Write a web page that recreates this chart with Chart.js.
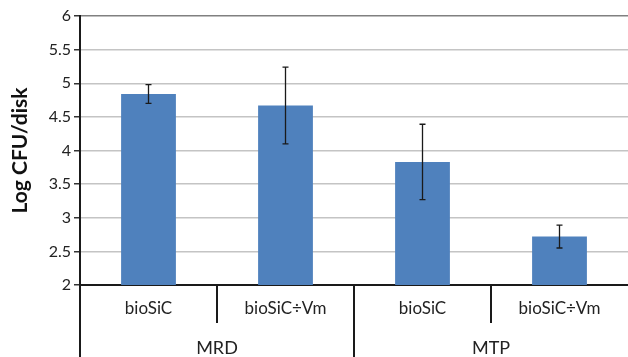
<!DOCTYPE html>
<html lang="en">
<head>
    <meta charset="UTF-8">
    <title>Log CFU/disk</title>
    <script src="https://cdn.jsdelivr.net/npm/chart.js"></script>
    <style>
        body { margin: 0; background: #fff; }
        canvas { display: block; }
    </style>
</head>
<body>
    <canvas id="chart" width="628" height="357"></canvas>

    <script>
        // data
        const categories = ['bioSiC', 'bioSiC÷Vm', 'bioSiC', 'bioSiC÷Vm'];
        const groups = ['MRD', 'MTP'];
        const means = [4.84, 4.67, 3.83, 2.72];
        const errors = [0.14, 0.57, 0.56, 0.17];
        const yTicks = [2, 2.5, 3, 3.5, 4, 4.5, 5, 5.5, 6];

        const font = 'Lato';

        // error bars on top of each bar
        const errorBars = {
            id: 'errorBars',
            afterDatasetsDraw(chart) {
                const ctx = chart.ctx;
                const y = chart.scales.y;
                const meta = chart.getDatasetMeta(0);
                ctx.save();
                ctx.strokeStyle = '#1a1a1a';
                ctx.lineWidth = 1.3;
                meta.data.forEach((bar, i) => {
                    const top = y.getPixelForValue(means[i] + errors[i]);
                    const bot = y.getPixelForValue(means[i] - errors[i]);
                    ctx.beginPath();
                    ctx.moveTo(bar.x, top);
                    ctx.lineTo(bar.x, bot);
                    ctx.moveTo(bar.x - 3, top);
                    ctx.lineTo(bar.x + 3, top);
                    ctx.moveTo(bar.x - 3, bot);
                    ctx.lineTo(bar.x + 3, bot);
                    ctx.stroke();
                });
                ctx.restore();
            }
        };

        // two-level category axis under the plot
        const groupAxis = {
            id: 'groupAxis',
            afterDraw(chart) {
                const ctx = chart.ctx;
                const x = chart.scales.x;
                const area = chart.chartArea;
                const h = chart.height;
                ctx.save();
                ctx.strokeStyle = '#1a1a1a';
                ctx.lineWidth = 2;
                ctx.beginPath();
                ctx.moveTo(area.left, area.bottom);
                ctx.lineTo(area.left, h);
                for (let i = 0; i < categories.length - 1; i++) {
                    const mid = (x.getPixelForValue(i) + x.getPixelForValue(i + 1)) / 2;
                    const long = (i + 1) % 2 === 0;
                    ctx.moveTo(mid, area.bottom);
                    ctx.lineTo(mid, long ? h : area.bottom + 38);
                }
                ctx.stroke();

                ctx.fillStyle = '#222';
                ctx.textAlign = 'center';
                ctx.textBaseline = 'middle';
                ctx.font = '17px ' + font;
                categories.forEach((c, i) => {
                    ctx.fillText(c, x.getPixelForValue(i), area.bottom + 24);
                });
                ctx.font = '18px ' + font;
                groups.forEach((g, j) => {
                    const cx = (x.getPixelForValue(2 * j) + x.getPixelForValue(2 * j + 1)) / 2;
                    ctx.fillText(g, cx, area.bottom + 63);
                });
                ctx.restore();
            }
        };

        new Chart(document.getElementById('chart'), {
            type: 'bar',
            data: {
                labels: categories,
                datasets: [{
                    data: means,
                    backgroundColor: '#4f81bd',
                    categoryPercentage: 1,
                    barPercentage: 0.4
                }]
            },
            options: {
                responsive: false,
                animation: false,
                layout: { padding: { top: 16, right: 0, bottom: 72, left: 0 } },
                plugins: {
                    legend: { display: false },
                    tooltip: { enabled: false }
                },
                scales: {
                    x: {
                        grid: { display: false },
                        border: { color: '#1a1a1a', width: 2 },
                        ticks: { display: false },
                        afterFit: s => { s.height = 0; }
                    },
                    y: {
                        min: 2,
                        max: 6,
                        afterBuildTicks: s => { s.ticks = yTicks.map(v => ({ value: v })); },
                        afterFit: s => { s.width = 80; },
                        ticks: {
                            color: '#222',
                            font: { family: font, size: 16 },
                            padding: 3,
                            callback: v => String(v)
                        },
                        grid: {
                            color: c => c.tick && c.tick.value === 6 ? '#808080' : '#c4c4c4',
                            lineWidth: 1.5,
                            tickLength: 6,
                            tickColor: '#333'
                        },
                        border: { color: '#1a1a1a', width: 2 },
                        title: {
                            display: true,
                            text: 'Log CFU/disk',
                            color: '#111',
                            font: { family: font, size: 21, weight: 'bold' },
                            padding: { top: 8, bottom: 0 }
                        }
                    }
                }
            },
            plugins: [errorBars, groupAxis]
        });
    </script>
</body>
</html>
